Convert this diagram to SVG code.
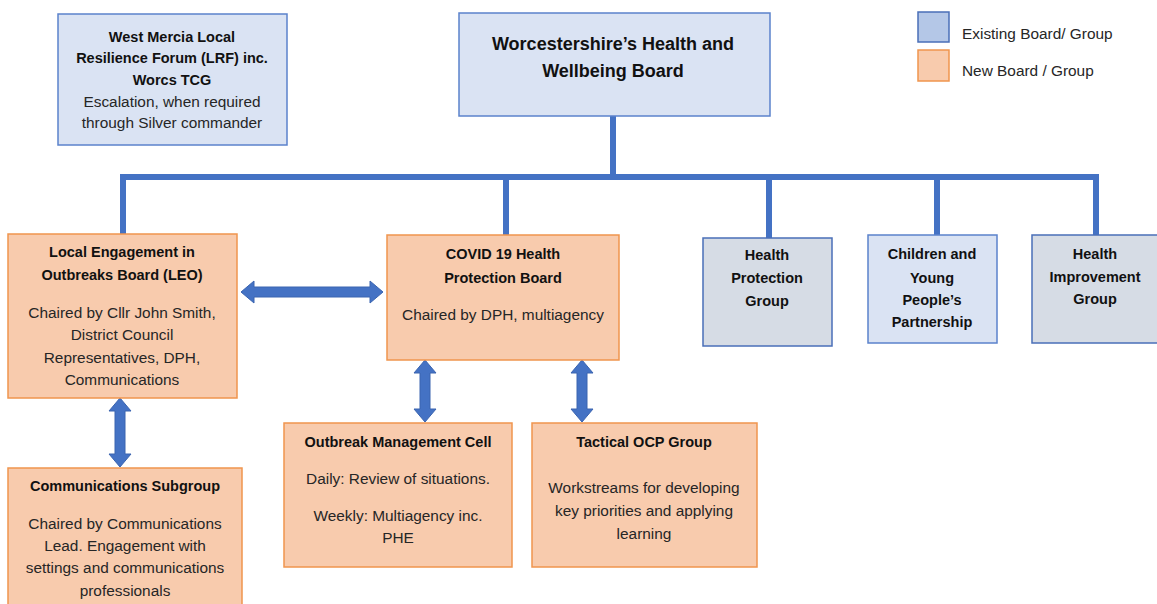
<svg xmlns="http://www.w3.org/2000/svg" width="1157" height="604" viewBox="0 0 1157 604">
<style>
text{font-family:"Liberation Sans",Arial,sans-serif;text-anchor:middle;dominant-baseline:central;fill:#262626;font-size:15.4px}
.b{font-weight:bold;fill:#111;font-size:14.5px}
.t{font-size:18px}
.ex{fill:#dae3f3;stroke:#5b82cc;stroke-width:1.5}
.ex2{fill:#d6dce5;stroke:#4a6fb8;stroke-width:1.5}
.nw{fill:#f8cbad;stroke:#f0954e;stroke-width:1.5}
.ln{fill:none;stroke:#4472c4;stroke-width:6}
.ar{fill:#4472c4;stroke:#3a64b0;stroke-width:1}
.lg{text-anchor:start;font-size:15.4px}
</style>
<g id="connectors">
<path class="ln" d="M613,116 V177 M120,177 H1099 M123,174 V234 M506,174 V235 M769,174 V238 M937,174 V235 M1096,174 V235"/>
<path class="ar" d="M241,292 L254,281 V287 H370 V281 L383,292 L370,303 V297 H254 V303 Z"/>
<path class="ar" d="M425,360 L436,373 H430 V409 H436 L425,422 L414,409 H420 V373 H414 Z"/>
<path class="ar" d="M582,360 L593,373 H587 V409 H593 L582,422 L571,409 H577 V373 H571 Z"/>
<path class="ar" d="M120,398 L131,411 H125 V454 H131 L120,467 L109,454 H115 V411 H109 Z"/>
</g>
<g id="lrf">
<rect class="ex" x="58" y="14" width="229" height="131"/>
<text class="b" x="172" y="37">West Mercia Local</text>
<text class="b" x="172" y="58">Resilience Forum (LRF) inc.</text>
<text class="b" x="172" y="80">Worcs TCG</text>
<text x="172" y="101">Escalation, when required</text>
<text x="172" y="122">through Silver commander</text>
</g>
<g id="hwb">
<rect class="ex" x="459" y="13" width="311" height="103"/>
<text class="b t" x="613" y="44">Worcestershire’s Health and</text>
<text class="b t" x="613" y="71">Wellbeing Board</text>
</g>
<g id="legend">
<rect x="918" y="12" width="31" height="30" fill="#b4c7e7" stroke="#4a6fb8" stroke-width="1.5"/>
<text class="lg" x="962" y="33">Existing Board/ Group</text>
<rect x="918" y="50" width="31" height="31" fill="#f8cbad" stroke="#f0954e" stroke-width="1.5"/>
<text class="lg" x="962" y="70">New Board / Group</text>
</g>
<g id="leo">
<rect class="nw" x="8" y="234" width="229" height="164"/>
<text class="b" x="122" y="252">Local Engagement in</text>
<text class="b" x="122" y="275">Outbreaks Board (LEO)</text>
<text x="122" y="312">Chaired by Cllr John Smith,</text>
<text x="122" y="334">District Council</text>
<text x="122" y="357">Representatives, DPH,</text>
<text x="122" y="379">Communications</text>
</g>
<g id="covid">
<rect class="nw" x="387" y="235" width="232" height="125"/>
<text class="b" x="503" y="254">COVID 19 Health</text>
<text class="b" x="503" y="278">Protection Board</text>
<text x="503" y="314">Chaired by DPH, multiagency</text>
</g>
<g id="hpg">
<rect class="ex2" x="703" y="238" width="129" height="108"/>
<text class="b" x="767" y="255">Health</text>
<text class="b" x="767" y="278">Protection</text>
<text class="b" x="767" y="301">Group</text>
</g>
<g id="cyp">
<rect class="ex" x="868" y="235" width="129" height="108"/>
<text class="b" x="932" y="254">Children and</text>
<text class="b" x="932" y="278">Young</text>
<text class="b" x="932" y="300">People’s</text>
<text class="b" x="932" y="322">Partnership</text>
</g>
<g id="hig">
<rect class="ex2" x="1032" y="235" width="130" height="108"/>
<text class="b" x="1095" y="254">Health</text>
<text class="b" x="1095" y="277">Improvement</text>
<text class="b" x="1095" y="299">Group</text>
</g>
<g id="comms">
<rect class="nw" x="8" y="468" width="234" height="140"/>
<text class="b" x="125" y="486">Communications Subgroup</text>
<text x="125" y="523">Chaired by Communications</text>
<text x="125" y="545">Lead. Engagement with</text>
<text x="125" y="567">settings and communications</text>
<text x="125" y="590">professionals</text>
</g>
<g id="omc">
<rect class="nw" x="284" y="423" width="228" height="144"/>
<text class="b" x="398" y="442">Outbreak Management Cell</text>
<text x="398" y="478">Daily: Review of situations.</text>
<text x="398" y="515">Weekly: Multiagency inc.</text>
<text x="398" y="537">PHE</text>
</g>
<g id="tactical">
<rect class="nw" x="532" y="423" width="225" height="144"/>
<text class="b" x="644" y="442">Tactical OCP Group</text>
<text x="644" y="487">Workstreams for developing</text>
<text x="644" y="510">key priorities and applying</text>
<text x="644" y="533">learning</text>
</g>
</svg>
